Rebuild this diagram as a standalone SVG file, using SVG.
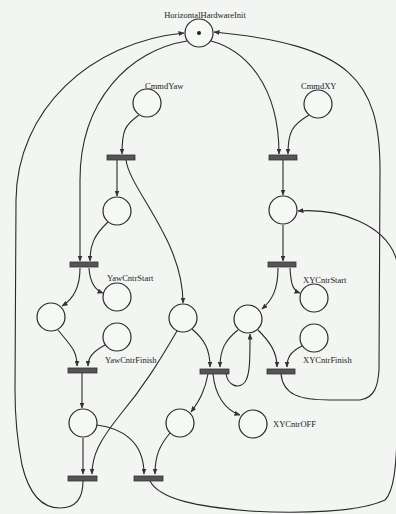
<svg xmlns="http://www.w3.org/2000/svg" width="396" height="514" viewBox="0 0 396 514">
<defs>
<marker id="ah" markerWidth="6" markerHeight="5" refX="5.5" refY="2.5" orient="auto" markerUnits="userSpaceOnUse">
<path d="M0,0 L6,2.5 L0,5 Z" fill="#333"/>
</marker>
<style>
.pl{fill:#f6f8f5;stroke:#2a2a2a;stroke-width:1.2}
.tr{fill:#555;stroke:#333;stroke-width:0.8}
.ar{fill:none;stroke:#2a2a2a;stroke-width:1.1;marker-end:url(#ah)}
.lb{font-family:"Liberation Serif",serif;font-size:8.5px;fill:#222}
</style>
</defs>
<rect x="0" y="0" width="396" height="514" fill="#f2f5f2"/>
<g id="connectors">
<path class="ar" d="M83,481 C83,500 75,508 60,508 C40,508 28,490 22,465 C15,430 15,400 15,390 L16,200 C17,110 90,42 184,33"/>
<path class="ar" d="M150,481 C160,500 200,507 250,511 C300,514 360,512 385,500 C395,490 396,460 397,440 C405,380 405,290 396,258 C385,225 340,208 298,211"/>
<path class="ar" d="M281,374 C283,395 300,400 330,400 L360,400 C375,398 378,385 379,370 L380,170 C380,80 350,45 214,32"/>
<path class="ar" d="M187,41 C130,50 80,100 80,180 L80,261"/>
<path class="ar" d="M211,41 C245,50 279,85 279,154"/>
<path class="ar" d="M139,115 C125,125 122,130 122,154"/>
<path class="ar" d="M309,115 C292,125 288,132 288,154"/>
<path class="ar" d="M117,160 L117,196"/>
<path class="ar" d="M126,160 C130,190 183,240 183,303"/>
<path class="ar" d="M108,222 C94,235 90,245 90,261"/>
<path class="ar" d="M283,160 L283,195"/>
<path class="ar" d="M283,225 L283,261"/>
<path class="ar" d="M80,268 C80,290 72,300 62,306"/>
<path class="ar" d="M89,268 C90,283 95,290 103,293"/>
<path class="ar" d="M58,330 C70,345 77,350 77,366"/>
<path class="ar" d="M105,345 C92,352 88,358 88,366"/>
<path class="ar" d="M82,373 L82,408"/>
<path class="ar" d="M192,329 C205,340 210,350 210,367"/>
<path class="ar" d="M177,331 C160,360 145,385 120,415 C100,440 92,455 92,474"/>
<path class="ar" d="M278,268 C278,290 272,300 262,309"/>
<path class="ar" d="M290,268 C291,283 292,290 300,293"/>
<path class="ar" d="M238,330 C225,340 220,350 220,367"/>
<path class="ar" d="M258,330 C270,342 277,352 277,367"/>
<path class="ar" d="M302,346 C290,352 287,358 287,367"/>
<path class="ar" d="M226,374 C228,385 238,390 245,382 C250,375 250,360 250,334"/>
<path class="ar" d="M213,374 C215,395 225,410 240,415"/>
<path class="ar" d="M208,374 C205,390 200,400 191,412"/>
<path class="ar" d="M83,438 L83,474"/>
<path class="ar" d="M97,425 C120,428 144,440 144,474"/>
<path class="ar" d="M170,433 C160,445 155,455 155,474"/>
</g>
<g id="HorizontalHardwareInit"><circle class="pl" cx="199" cy="33" r="14"/><circle cx="199" cy="33" r="2" fill="#222"/><text class="lb" x="205" y="18" text-anchor="middle" font-size="9">HorizontalHardwareInit</text></g>
<g id="CmmdYaw"><circle class="pl" cx="147" cy="103" r="14"/><text class="lb" x="145" y="89">CmmdYaw</text></g>
<g id="CmmdXY"><circle class="pl" cx="318" cy="104" r="14"/><text class="lb" x="301" y="89">CmmdXY</text></g>
<g id="T1"><rect class="tr" x="107" y="155" width="28" height="5"/></g>
<g id="T2"><rect class="tr" x="269" y="155" width="28" height="5"/></g>
<g id="P3"><circle class="pl" cx="117" cy="211" r="14"/></g>
<g id="P4"><circle class="pl" cx="283" cy="210" r="14"/></g>
<g id="T3"><rect class="tr" x="70" y="262" width="28" height="5"/></g>
<g id="T4"><rect class="tr" x="268" y="262" width="28" height="5"/></g>
<g id="P5"><circle class="pl" cx="51" cy="317" r="14"/></g>
<g id="YawCntrStart"><circle class="pl" cx="117" cy="297" r="14"/><text class="lb" x="107" y="281">YawCntrStart</text></g>
<g id="YawCntrFinish"><circle class="pl" cx="117" cy="337" r="14"/><text class="lb" x="105" y="363">YawCntrFinish</text></g>
<g id="P8"><circle class="pl" cx="183" cy="318" r="14"/></g>
<g id="P9"><circle class="pl" cx="248" cy="319" r="14"/></g>
<g id="XYCntrStart"><circle class="pl" cx="314" cy="298" r="14"/><text class="lb" x="303" y="283">XYCntrStart</text></g>
<g id="XYCntrFinish"><circle class="pl" cx="314" cy="338" r="14"/><text class="lb" x="303" y="363">XYCntrFinish</text></g>
<g id="T5"><rect class="tr" x="68" y="368" width="29" height="5"/></g>
<g id="T6"><rect class="tr" x="200" y="369" width="29" height="5"/></g>
<g id="T7"><rect class="tr" x="267" y="369" width="28" height="5"/></g>
<g id="P12"><circle class="pl" cx="83" cy="423" r="14"/></g>
<g id="P13"><circle class="pl" cx="180" cy="423" r="14"/></g>
<g id="XYCntrOFF"><circle class="pl" cx="253" cy="424" r="14"/><text class="lb" x="273" y="427">XYCntrOFF</text></g>
<g id="T8"><rect class="tr" x="68" y="476" width="29" height="5"/></g>
<g id="T9"><rect class="tr" x="134" y="476" width="29" height="5"/></g>
</svg>
